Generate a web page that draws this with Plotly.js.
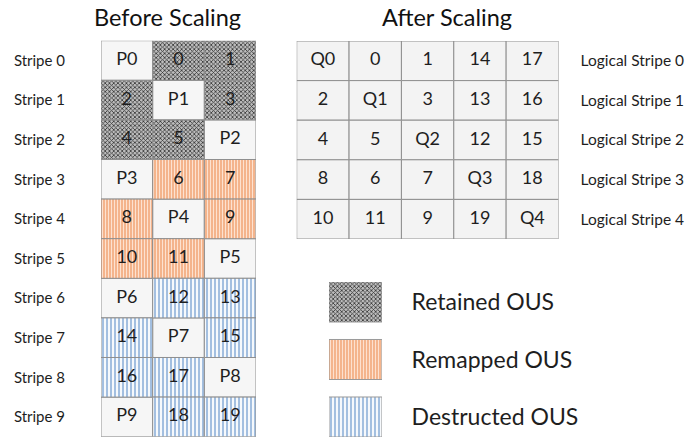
<!DOCTYPE html>
<html>
<head>
<meta charset="utf-8">
<script src="https://cdn.plot.ly/plotly-3.0.1.min.js"></script>
<style>html,body{margin:0;padding:0;background:#fff;}#chart{width:697px;height:440px;}</style>
</head>
<body>
<div id="chart"></div>
<script>
// ---- data ----
const beforeStripes = ["Stripe 0","Stripe 1","Stripe 2","Stripe 3","Stripe 4","Stripe 5","Stripe 6","Stripe 7","Stripe 8","Stripe 9"];
const beforeCells = [
  ["P0","0","1"],["2","P1","3"],["4","5","P2"],["P3","6","7"],["8","P4","9"],
  ["10","11","P5"],["P6","12","13"],["14","P7","15"],["16","17","P8"],["P9","18","19"]
];
// P = parity, R = retained, M = remapped, D = destructed
const beforeKinds = [
  ["P","R","R"],["R","P","R"],["R","R","P"],["P","M","M"],["M","P","M"],
  ["M","M","P"],["P","D","D"],["D","P","D"],["D","D","P"],["P","D","D"]
];
const afterStripes = ["Logical Stripe 0","Logical Stripe 1","Logical Stripe 2","Logical Stripe 3","Logical Stripe 4"];
const afterCells = [
  ["Q0","0","1","14","17"],
  ["2","Q1","3","13","16"],
  ["4","5","Q2","12","15"],
  ["8","6","7","Q3","18"],
  ["10","11","9","19","Q4"]
];
const legendKinds = ["R","M","D"];
const legendLabels = ["Retained OUS","Remapped OUS","Destructed OUS"];
const titles = ["Before Scaling","After Scaling"];

// ---- styles ----
const FONT = "Lato, 'Open Sans', sans-serif";
const BORDER = {color:"#8f8f8f", width:1};
const kindStyle = {
  P: {color:"#f6f6f6"},
  R: {color:"#9a9a9a", pattern:{shape:"x", size:3, solidity:0.45, fgcolor:"#333333", bgcolor:"#bdbdbd", fillmode:"replace"}},
  M: {color:"#f5b690", pattern:{shape:"|", size:3, solidity:0.35, fgcolor:"#fde2d0", bgcolor:"#f4b48c", fillmode:"replace"}},
  D: {color:"#dbe6f3", pattern:{shape:"|", size:4, solidity:0.5, fgcolor:"#a3bfe0", bgcolor:"#f6f9fc", fillmode:"replace"}}
};

const traces = [];
// before grid cells
["P","R","M","D"].forEach(k => {
  const xs=[], bases=[], hs=[];
  beforeKinds.forEach((row,r) => row.forEach((kk,c) => { if(kk===k){ xs.push(c); bases.push(r-0.5); hs.push(1);} }));
  traces.push({type:"bar", x:xs, y:hs, base:bases, width:1, xaxis:"x", yaxis:"y",
    marker:Object.assign({line:BORDER}, kindStyle[k]), hoverinfo:"skip", showlegend:false});
});
// before text
{
  const xs=[], ys=[], ts=[];
  beforeCells.forEach((row,r)=>row.forEach((t,c)=>{xs.push(c); ys.push(r); ts.push(t);}));
  traces.push({type:"scatter", mode:"text", x:xs, y:ys, text:ts, xaxis:"x", yaxis:"y",
    textfont:{family:FONT, size:18, color:"#1e1e1e"}, hoverinfo:"skip", showlegend:false});
}
// after grid cells
{
  const xs=[], bases=[], hs=[], txs=[], tys=[], ts=[];
  afterCells.forEach((row,r)=>row.forEach((t,c)=>{xs.push(c); bases.push(r-0.5); hs.push(1); txs.push(c); tys.push(r); ts.push(t);}));
  traces.push({type:"bar", x:xs, y:hs, base:bases, width:1, xaxis:"x2", yaxis:"y2",
    marker:{color:"#f3f3f3", line:BORDER}, hoverinfo:"skip", showlegend:false});
  traces.push({type:"scatter", mode:"text", x:txs, y:tys, text:ts, xaxis:"x2", yaxis:"y2",
    textfont:{family:FONT, size:18, color:"#1e1e1e"}, hoverinfo:"skip", showlegend:false});
}
// legend swatches
legendKinds.forEach((k,i)=>{
  traces.push({type:"bar", orientation:"h", y:[i], x:[1], width:0.696, xaxis:"x3", yaxis:"y3",
    marker:Object.assign({line:{color:"#9a9a9a", width:1}}, kindStyle[k]), hoverinfo:"skip", showlegend:false});
});

const hiddenX = {showgrid:false, zeroline:false, showticklabels:false, ticks:"", showline:false, fixedrange:true};

const layout = {
  width:697, height:440,
  margin:{l:0,r:0,t:0,b:0},
  paper_bgcolor:"#ffffff", plot_bgcolor:"rgba(0,0,0,0)",
  barmode:"overlay", bargap:0,
  font:{family:FONT, color:"#1e1e1e"},
  showlegend:false,
  xaxis: Object.assign({domain:[0.1449,0.3673], range:[-0.5,2.5]}, hiddenX),
  yaxis: {domain:[0.0075,0.9075], range:[9.5,-0.5], anchor:"x",
    tickvals:beforeStripes.map((_,i)=>i), ticktext:beforeStripes,
    ticks:"outside", ticklen:32, tickcolor:"rgba(0,0,0,0)",
    tickfont:{family:FONT, size:15, color:"#1e1e1e"},
    showgrid:false, zeroline:false, showline:false, fixedrange:true},
  xaxis2: Object.assign({domain:[0.4257,0.8013], range:[-0.5,4.5], anchor:"y2"}, hiddenX),
  yaxis2: {domain:[0.4568,0.9068], range:[4.5,-0.5], anchor:"x2", side:"right",
    tickvals:afterStripes.map((_,i)=>i), ticktext:afterStripes,
    ticks:"outside", ticklen:18, tickcolor:"rgba(0,0,0,0)",
    tickfont:{family:FONT, size:15.5, color:"#1e1e1e"},
    showgrid:false, zeroline:false, showline:false, fixedrange:true},
  xaxis3: Object.assign({domain:[0.472,0.548], range:[0,1], anchor:"y3"}, hiddenX),
  yaxis3: {domain:[0.00682,0.3591], range:[2.348,-0.348], anchor:"x3", side:"right",
    tickvals:legendLabels.map((_,i)=>i), ticktext:legendLabels,
    ticks:"outside", ticklen:24, tickcolor:"rgba(0,0,0,0)",
    tickfont:{family:FONT, size:23, color:"#1e1e1e"},
    showgrid:false, zeroline:false, showline:false, fixedrange:true},
  annotations:[
    {text:titles[0], xref:"paper", yref:"paper", x:0.2396, y:0.961, xanchor:"center", yanchor:"middle", showarrow:false, font:{family:FONT, size:23.5, color:"#111"}},
    {text:titles[1], xref:"paper", yref:"paper", x:0.642, y:0.961, xanchor:"center", yanchor:"middle", showarrow:false, font:{family:FONT, size:23.5, color:"#111"}}
  ]
};

Plotly.newPlot("chart", traces, layout, {staticPlot:true, displayModeBar:false});
</script>
</body>
</html>
